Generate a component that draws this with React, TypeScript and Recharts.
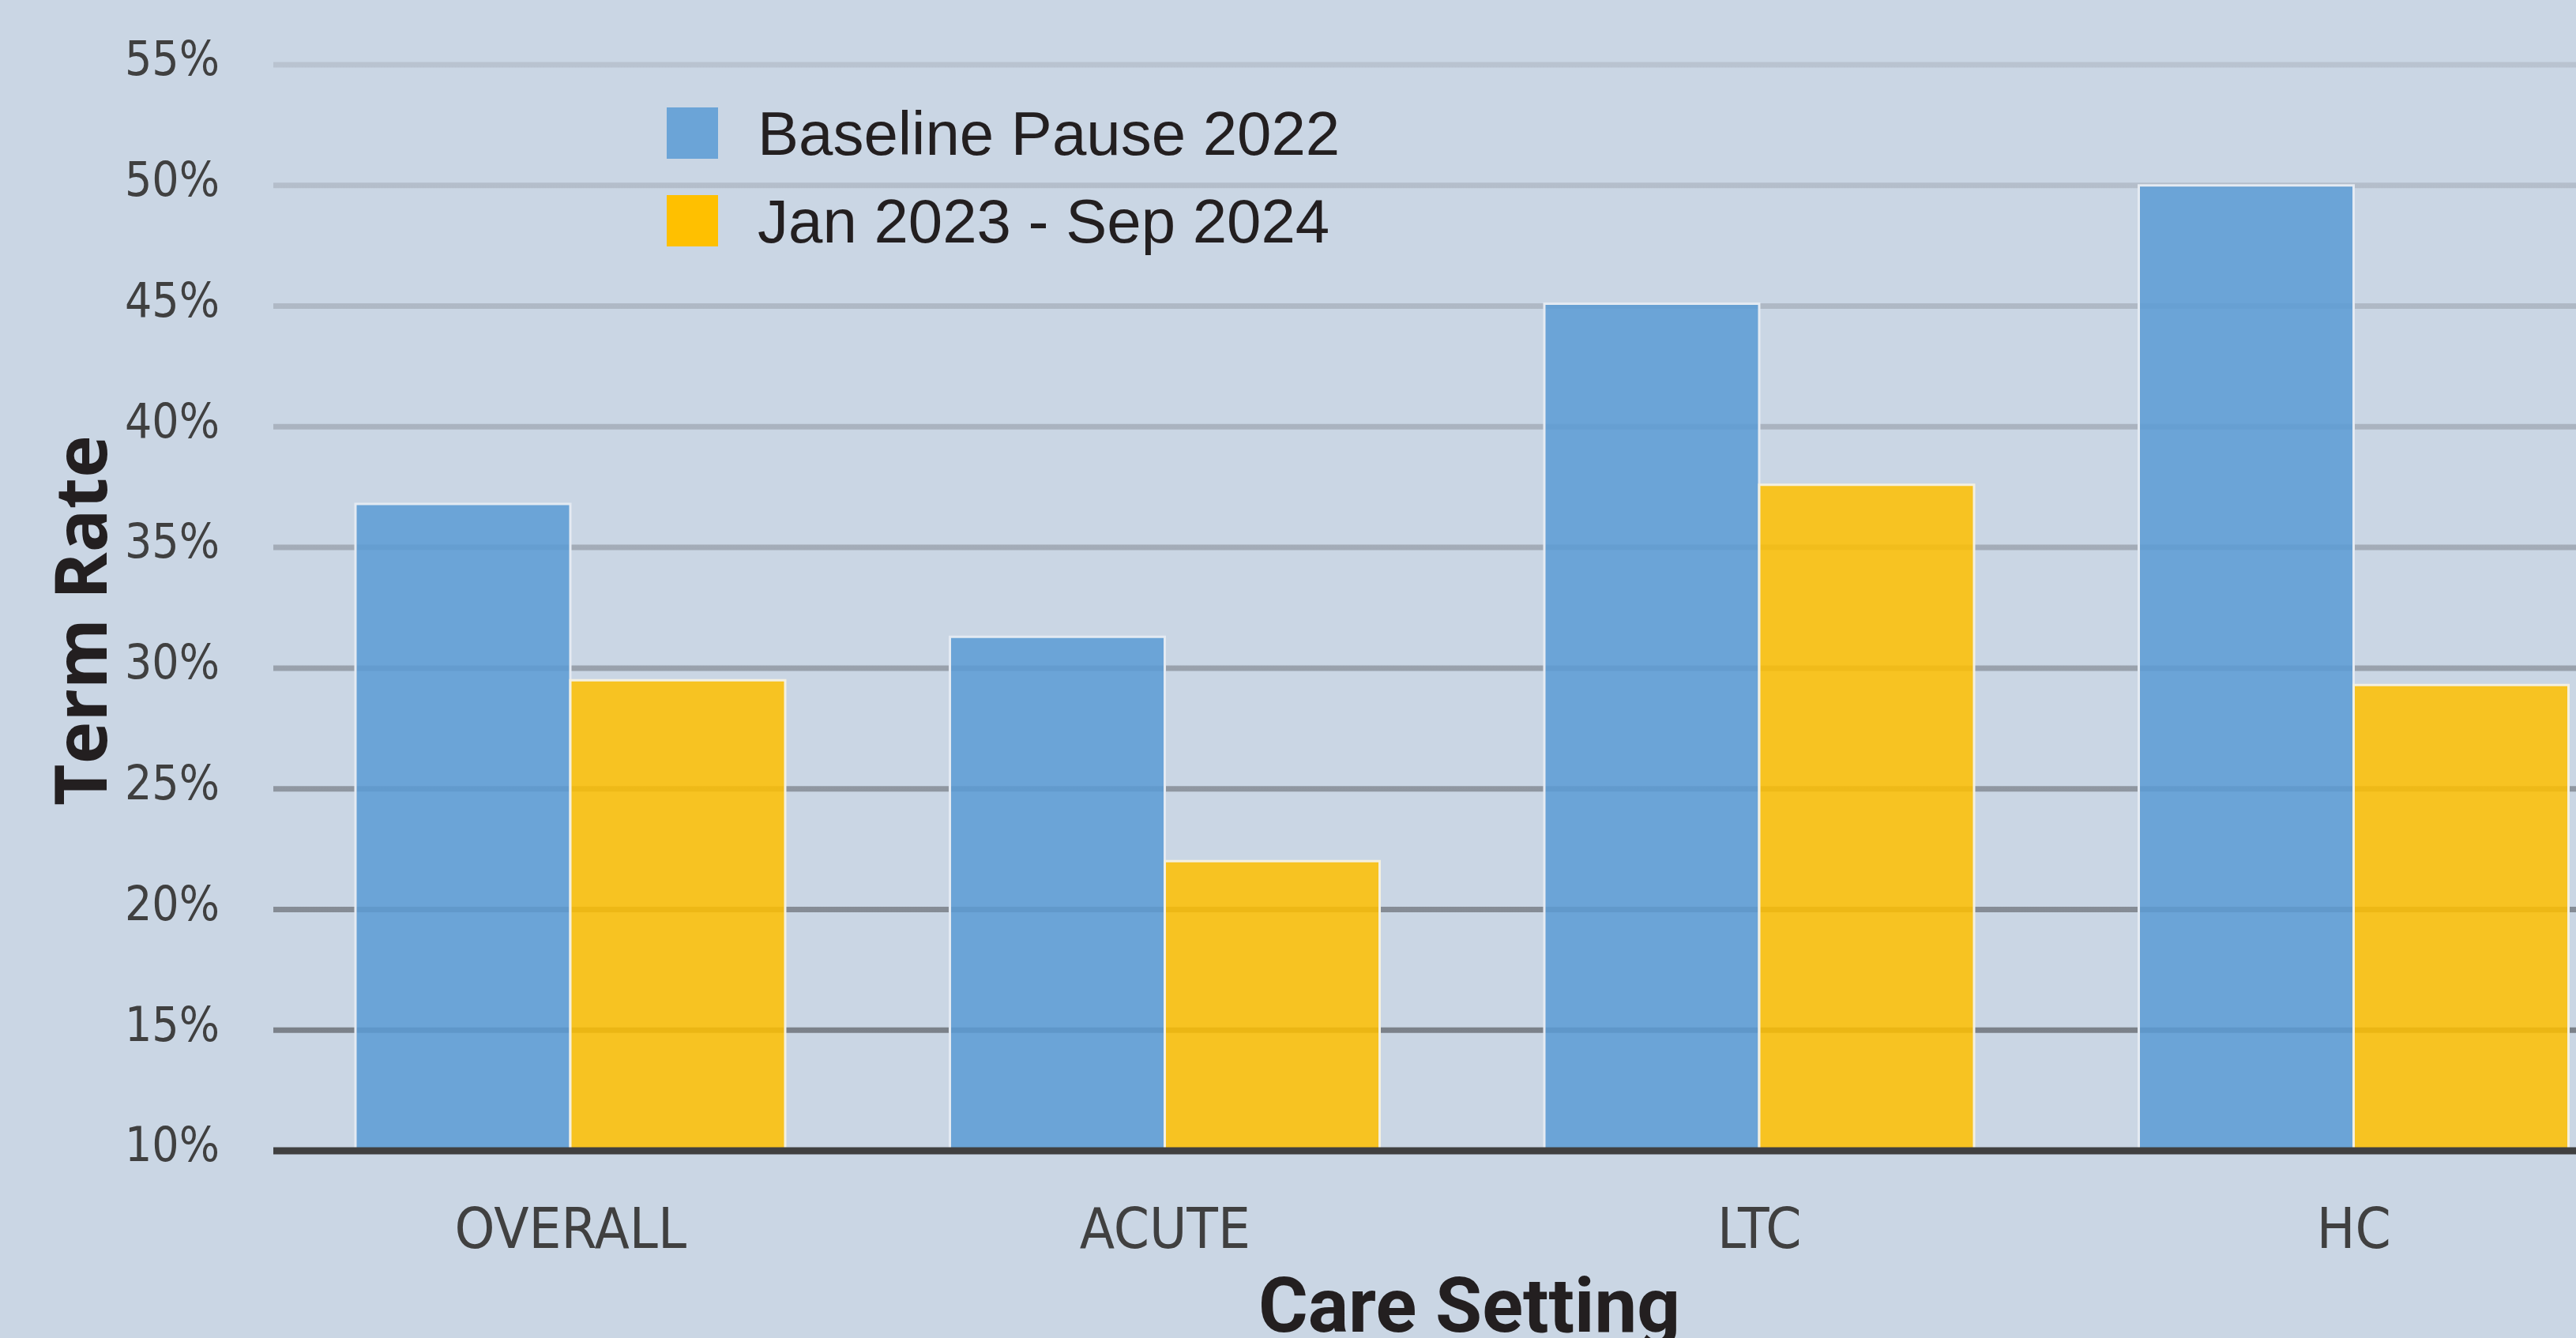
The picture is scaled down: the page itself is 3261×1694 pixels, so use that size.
import React from 'react'
import { BarChart, Bar, XAxis, YAxis, CartesianGrid, Legend } from 'recharts'

const categories = ['OVERALL', 'ACUTE', 'LTC', 'HC']
const baselinePause2022 = [36.8, 31.3, 45.1, 50.0]
const jan2023Sep2024 = [29.5, 22.0, 37.6, 29.3]
const yTicks = [10, 15, 20, 25, 30, 35, 40, 45, 50, 55]
const seriesNames = ['Baseline Pause 2022', 'Jan 2023 - Sep 2024']

const BG = '#cad6e4'
const BLUE = '#5b9bd5'
const YELLOW = '#ffc000'
const TICK_FONT = "'Liberation Sans Narrow', 'DejaVu Sans Condensed', 'Liberation Sans', sans-serif"

const data = categories.map((c, i) => ({
    category: c,
    baseline: baselinePause2022[i],
    recent: jan2023Sep2024[i],
}))

function YTick({ x, y, payload }: any) {
    return (
        <text x={x} y={y - 8} dy="0.355em" textAnchor="end" fill="#404040"
            fontSize={60} fontFamily={TICK_FONT}>
            {payload.value}%
        </text>
    )
}

function XTick({ x, y, payload }: any) {
    return (
        <text x={x} y={y} dy="0.71em" textAnchor="middle" fill="#404040"
            fontSize={72} fontFamily={TICK_FONT}>
            {payload.value}
        </text>
    )
}

function YTitle({ viewBox }: any) {
    const cx = 100
    const cy = viewBox.y + viewBox.height / 2 + 16
    return (
        <text x={cx} y={cy} transform={`rotate(-90 ${cx} ${cy})`} textAnchor="middle"
            dominantBaseline="central" fill="#231f20" fontSize={91} fontWeight={700}
            fontFamily="'Open Sans', sans-serif">
            Term Rate
        </text>
    )
}

function XTitle({ viewBox }: any) {
    const cx = 1860
    return (
        <text x={cx} y={viewBox.y + 229} textAnchor="middle" fill="#231f20"
            fontSize={96} fontWeight={700} fontFamily="Roboto, sans-serif">
            Care Setting
        </text>
    )
}

function LegendBox() {
    const colors = [BLUE, YELLOW]
    const opac = [0.85, 1]
    return (
        <div>
            {seriesNames.map((name, i) => (
                <div key={name} style={{ display: 'flex', alignItems: 'center', height: 111 }}>
                    <span style={{ width: 65, height: 65, background: colors[i], opacity: opac[i], display: 'inline-block' }} />
                    <span style={{ marginLeft: 50, fontSize: 78, lineHeight: 1, color: '#231f20', fontFamily: "'Liberation Sans', Arial, sans-serif" }}>
                        {name}
                    </span>
                </div>
            ))}
        </div>
    )
}

export default function App() {
    return (
        <div style={{ position: 'fixed', left: 0, top: 0, width: 3261, height: 1694, overflow: 'hidden', background: BG }}>
            <BarChart width={3356} height={1694} data={data} barGap={0} barSize={272}
                margin={{ top: 82, right: 0, bottom: 0, left: 0 }}>
                <defs>
                    <linearGradient id="gridGrad" gradientUnits="userSpaceOnUse" x1="0" y1="82" x2="0" y2="1310">
                        <stop offset="0%" stopColor="#b9c3d0" />
                        <stop offset="45%" stopColor="#a7b0bc" />
                        <stop offset="100%" stopColor="#7b8189" />
                    </linearGradient>
                </defs>
                <CartesianGrid vertical={false} stroke="url(#gridGrad)" strokeWidth={7} />
                <XAxis dataKey="category" interval={0} tickLine={false} tickSize={0} tickMargin={72}
                    axisLine={{ stroke: '#404040', strokeWidth: 9 }} tick={<XTick />} height={237}
                    label={<XTitle />} />
                <YAxis domain={[10, 55]} ticks={yTicks} width={346} axisLine={false} tickLine={false}
                    tickSize={0} tickMargin={68} tick={<YTick />} label={<YTitle />} />
                <Legend verticalAlign="middle" align="center" layout="vertical" content={<LegendBox />}
                    wrapperStyle={{ left: 844, top: 113, width: 1000, height: 222 }} />
                <Bar dataKey="baseline" name={seriesNames[0]} fill={BLUE} fillOpacity={0.85}
                    stroke="#e4eaf2" strokeWidth={3} isAnimationActive={false} />
                <Bar dataKey="recent" name={seriesNames[1]} fill={YELLOW} fillOpacity={0.85}
                    stroke="#f4f0e0" strokeWidth={3} isAnimationActive={false} />
            </BarChart>
        </div>
    )
}
